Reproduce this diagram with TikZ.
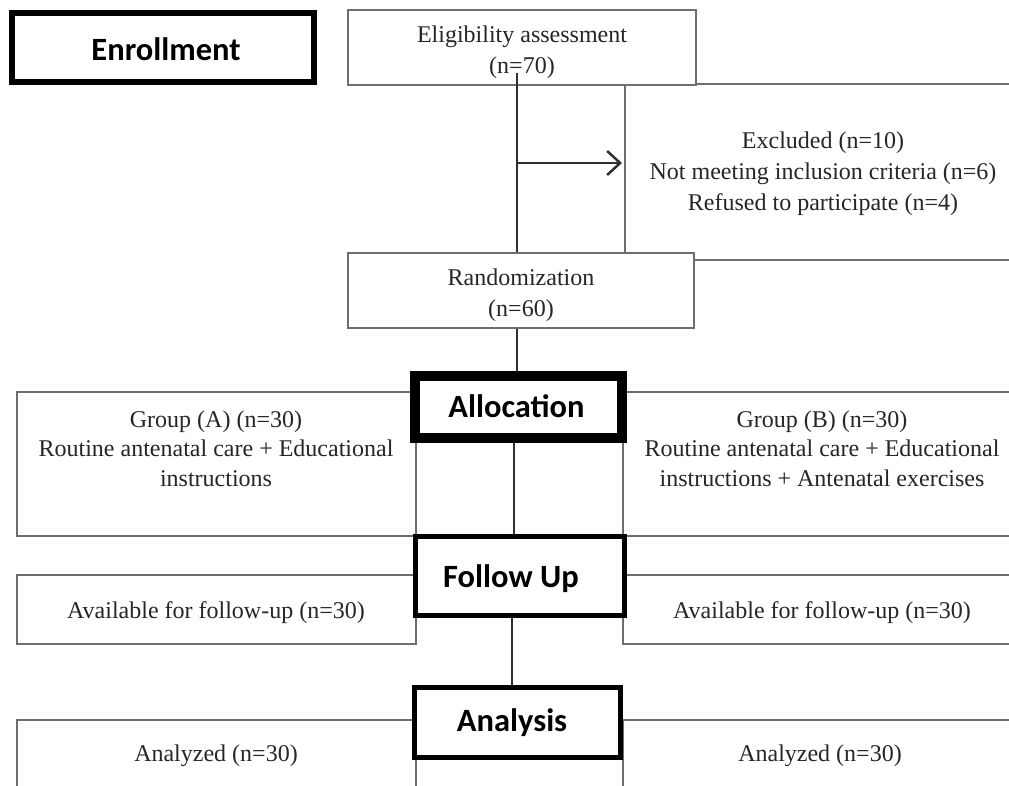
\documentclass[tikz,border=0pt]{standalone}
\usepackage{fontspec}
\setmainfont{Liberation Serif}
\newfontfamily\headfont{Carlito}
\usetikzlibrary{arrows.meta}
\definecolor{boxgray}{HTML}{6E6E6E}
\definecolor{txtcol}{HTML}{262626}
\definecolor{linecol}{HTML}{303030}
\tikzset{
  thinbox/.style={draw=boxgray, line width=2pt, fill=white, inner sep=0pt},
  thickbox/.style={draw=black, fill=white, inner sep=0pt},
  txt/.style={font=\fontsize{24}{31}\selectfont, text=txtcol, align=center, text height=16pt, text depth=0pt, inner sep=0pt},
  head/.style={font=\headfont\bfseries\fontsize{32.5}{38}\selectfont, text=black, text height=21pt, text depth=0pt, inner sep=0pt},
  conn/.style={draw=linecol, line width=2.5pt},
}
\begin{document}
\begin{tikzpicture}[x=1pt,y=-1pt]
\useasboundingbox (0,0) rectangle (1009,785);
\clip (0,0) rectangle (1009,785);
\fill[white] (0,0) rectangle (1009,785);
% thin boxes
\node[thinbox, minimum width=390pt, minimum height=176pt] (excl) at (820,172) {};
\node[thinbox, minimum width=348pt, minimum height=75pt] (elig) at (522,47.5) {};
\node[thinbox, minimum width=346pt, minimum height=75pt] (rand) at (521,290.5) {};
\node[thinbox, minimum width=399pt, minimum height=144pt] (grpA) at (216.5,464) {};
\node[thinbox, minimum width=392pt, minimum height=144pt] (grpB) at (819,464) {};
\node[thinbox, minimum width=399pt, minimum height=69pt] (avA) at (216.5,609.5) {};
\node[thinbox, minimum width=392pt, minimum height=69pt] (avB) at (819,609.5) {};
\node[thinbox, minimum width=399pt, minimum height=80pt] (anA) at (216.5,760) {};
\node[thinbox, minimum width=392pt, minimum height=80pt] (anB) at (819,760) {};
% thick stage boxes
\node[thickbox, line width=6pt, minimum width=302pt, minimum height=69pt] (enroll) at (163,47.5) {};
\node[thickbox, line width=10pt, minimum width=207pt, minimum height=62pt] (alloc) at (518.5,407) {};
\node[thickbox, line width=5pt, minimum width=209pt, minimum height=79pt] (follow) at (520,576) {};
\node[thickbox, line width=5pt, minimum width=206pt, minimum height=70pt] (anal) at (517.5,722.5) {};
% connectors
\coordinate (c1) at (517,73);
\draw[conn] (c1) -- (c1 |- rand.north);
\coordinate (c2) at (517,0);
\draw[conn] (rand.south -| c2) -- (alloc.north -| c2);
\coordinate (c3) at (514,0);
\draw[conn] (alloc.south -| c3) -- (follow.north -| c3);
\coordinate (c4) at (512,0);
\draw[conn] (follow.south -| c4) -- (anal.north -| c4);
\coordinate (ar) at (517,163);
\draw[conn, shorten >=2pt, -{Straight Barb[length=13pt,width=24pt,line width=2.5pt]}] (ar) -- (ar -| excl.west);
% texts (multi-line nodes are placed by their last line)
\node[head] (t-enroll) at (166,50) {Enrollment};
\node[head] (t-alloc) at (516.5,407) {Allocation};
\node[head] (t-follow) at (511,577) {Follow Up};
\node[head] (t-anal) at (512,721) {Analysis};
\node[txt] (t-elig) at (522,65) {Eligibility assessment\\(n=70)};
\node[txt] (t-excl) at (823,202) {Excluded (n=10)\\Not meeting inclusion criteria (n=6)\\Refused to participate (n=4)};
\node[txt] (t-rand) at (521,308) {Randomization\\(n=60)};
\node[txt, font=\fontsize{24}{29.5}\selectfont] (t-grpA) at (216,478) {Group (A) (n=30)\\Routine antenatal care + Educational\\instructions};
\node[txt, font=\fontsize{24}{29.5}\selectfont] (t-grpB) at (822,478) {Group (B) (n=30)\\Routine antenatal care + Educational\\instructions + Antenatal exercises};
\node[txt] (t-avA) at (216,610) {Available for follow-up (n=30)};
\node[txt] (t-avB) at (822,610) {Available for follow-up (n=30)};
\node[txt] (t-anA) at (216,753) {Analyzed (n=30)};
\node[txt] (t-anB) at (820,753) {Analyzed (n=30)};
\end{tikzpicture}
\end{document}
